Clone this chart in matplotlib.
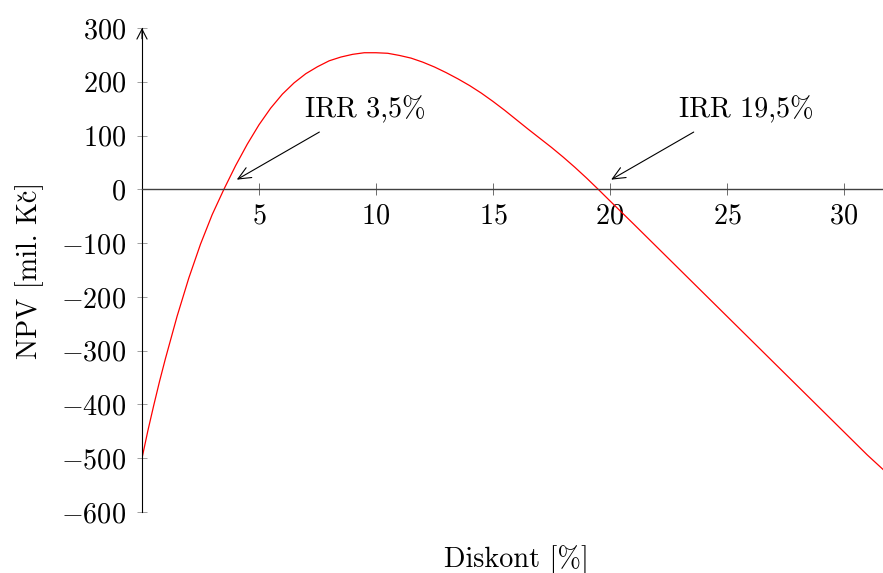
import matplotlib
matplotlib.use("Agg")
import matplotlib.pyplot as plt

plt.rcParams['font.family'] = 'cmr10'
plt.rcParams['mathtext.fontset'] = 'cm'
plt.rcParams['axes.formatter.use_mathtext'] = True
plt.rcParams['font.size'] = 20.3

# discount rate [%] and NPV [mil. Kc]
rate = [0, 0.25, 0.5, 0.75, 1, 1.5, 2, 2.5, 3, 3.5, 4, 4.5, 5, 5.5, 6, 6.5, 7,
        7.5, 8, 8.5, 9, 9.5, 10, 10.5, 11, 11.5, 12, 12.5, 13, 13.5, 14, 14.5,
        15, 15.5, 16, 16.5, 17, 17.5, 18, 18.5, 19, 19.5, 20, 21, 22, 23, 24,
        25, 26, 27, 28, 29, 30, 31, 31.7]
npv = [-500, -449, -402, -357, -315, -236, -165, -102, -47, 0, 44, 84, 120,
       151, 177, 198, 215, 228, 239, 246, 251, 254, 254, 253, 249, 244, 236.5,
       227.5, 217, 205.5, 193, 179, 163.5, 147, 129.5, 112, 95, 78, 60, 41, 21,
       0, -21.5, -64, -107, -150, -193, -236, -279, -322, -365, -408, -451,
       -494, -522]
irr = [3.5, 19.5]
irr_labels = ['IRR 3,5%', 'IRR 19,5%']

xticks = [5, 10, 15, 20, 25, 30]
yticks = [-600, -500, -400, -300, -200, -100, 0, 100, 200, 300]

W, H = 883, 573
fig = plt.figure(figsize=(W / 100, H / 100), dpi=100)
ax = fig.add_axes([142 / W, 1 - 512 / H, 741 / W, 484 / H])

ax.plot(rate, npv, color='red', lw=0.9)

ax.set_xlim(0, 31.67)
ax.set_ylim(-600, 300)
ax.set_xticks(xticks)
ax.set_yticks(yticks)

for s in ['top', 'right']:
    ax.spines[s].set_visible(False)
ax.spines['bottom'].set_position(('data', 0))
ax.spines['bottom'].set_color('#404040')
ax.spines['bottom'].set_linewidth(1.0)
ax.spines['left'].set_linewidth(0.8)

ax.tick_params(axis='x', direction='inout', length=8.6, width=0.6,
               color='#555555', pad=5.5)
ax.tick_params(axis='y', direction='inout', length=7.2, width=0.7,
               color='#a0a0a0', pad=8)

# arrow head on top of the y axis
ax.annotate('', xy=(0, 300), xytext=(0, 280), annotation_clip=False,
            arrowprops=dict(arrowstyle='->,head_length=0.35,head_width=0.18',
                            lw=0.8, color='black', shrinkA=0, shrinkB=0))

# IRR pins
text_x = [9.55, 25.81]
for r, lab, tx in zip(irr, irr_labels, text_x):
    ax.annotate('', xy=(r + 0.55, 18), xytext=(r + 4.08, 106.5),
                arrowprops=dict(arrowstyle='->,head_length=0.45,head_width=0.2',
                                lw=0.8, color='black', shrinkA=0, shrinkB=0))
    ax.text(tx, 134.4, lab, ha='center', va='baseline')

fig.text(516 / W, 1 - 567 / H, 'Diskont [%]', ha='center', va='baseline')

# y label: cmr10 has no "č", so the caron goes on top of the "c" separately
ylab = 'NPV [mil. Kc]'
lx, ly = 37, H - 270
fig.text(lx / W, ly / H, ylab, rotation=90, rotation_mode='anchor',
         ha='center', va='baseline')

renderer = fig.canvas.get_renderer()


def text_width(s):
    t = fig.text(0, 0, s)
    w = t.get_window_extent(renderer).width
    t.remove()
    return w


c_mid = -text_width(ylab) / 2 + text_width(ylab[:-2]) + text_width('c') / 2
fig.text((lx - 1) / W, (ly + c_mid) / H, '\u02c7', rotation=90,
         rotation_mode='anchor', ha='center', va='baseline',
         family='DejaVu Serif', fontsize=17)

fig.savefig('out.png', dpi=100)
